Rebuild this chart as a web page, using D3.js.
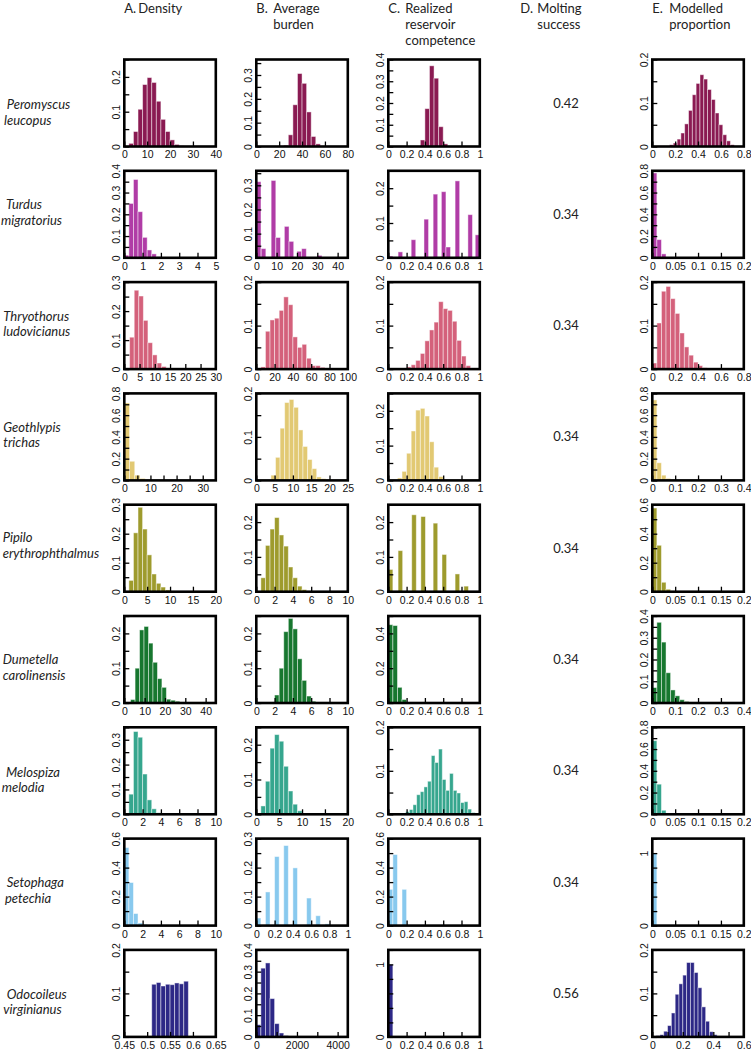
<!DOCTYPE html>
<html><head><meta charset="utf-8">
<script src="https://cdn.jsdelivr.net/npm/d3@7"></script>
<style>body{margin:0;background:#fff}svg{display:block}</style>
</head><body>
<svg id="chart" width="751" height="1050"></svg>
<script>
// ---------------- DATA ----------------
const species = [["Peromyscus","leucopus"],["Turdus","migratorius"],["Thryothorus","ludovicianus"],["Geothlypis","trichas"],["Pipilo","erythrophthalmus"],["Dumetella","carolinensis"],["Melospiza","melodia"],["Setophaga","petechia"],["Odocoileus","virginianus"]];
const speciesColors = ["#8a1a52","#b03ca6","#d4617b","#e2c973","#9e9b2d","#17772f","#36a68e","#88c9ee","#2d2886"];
const moltingSuccess = [0.42,0.34,0.34,0.34,0.34,0.34,0.34,0.34,0.56];
const columnLetters = ["A.","B.","C.","D.","E."];
const columnTitles = [["Density"],["Average","burden"],["Realized","reservoir","competence"],["Molting","success"],["Modelled","proportion"]];

// axis specs: x = [min, max, tickStep, labelStep], y = [max, tickStep, labelStep]
const densityX = [[0,40,10,10],[0,5,1,1],[0,30,5,5],[0,35,5,10],[0,20,5,5],[0,45,10,10],[0,10,2,2],[0,10,2,2],[0.45,0.65,0.05,0.05]];
const densityY = [[0.25,0.05,0.1],[0.4,0.05,0.1],[0.3,0.05,0.1],[0.8,0.1,0.2],[0.3,0.05,0.1],[0.25,0.05,0.1],[0.35,0.05,0.1],[0.6,0.1,0.2],[0.2,0.05,0.1]];
const densityBinWidth = [2,0.25,1.5,2,1,2.2,0.5,0.5,0.01];
const densityBins = [
  [[2,0.009],[4,0.043],[6,0.107],[8,0.178],[10,0.198],[12,0.184],[14,0.13],[16,0.078],[18,0.043],[20,0.019],[22,0.006],[24,0.002]],
  [[0,0.012],[0.25,0.25],[0.5,0.36],[0.75,0.212],[1,0.094],[1.25,0.036],[1.5,0.018],[1.75,0.005]],
  [[1.75,0.11],[3.25,0.272],[4.75,0.252],[6.25,0.168],[7.75,0.091],[9.25,0.049],[10.75,0.021],[12.25,0.009],[13.75,0.004],[15.25,0.002]],
  [[0,0.712],[2,0.176],[4,0.048],[6,0.018],[8,0.004]],
  [[1,0.039],[2,0.203],[3,0.291],[4,0.216],[5,0.127],[6,0.061],[7,0.029],[8,0.016],[9,0.006],[10,0.002]],
  [[3.1,0.01],[5.3,0.1],[7.5,0.21],[9.7,0.22],[11.9,0.172],[14.1,0.117],[16.3,0.07],[18.5,0.045],[20.7,0.011],[22.9,0.008],[25.1,0.005],[27.3,0.002]],
  [[0.5,0.081],[1,0.333],[1.5,0.31],[2,0.162],[2.5,0.058],[3,0.022],[3.5,0.006],[4,0.002]],
  [[0,0.538],[0.5,0.297],[1,0.083],[1.5,0.018],[2,0.009],[2.5,0.003]],
  [[0.51,0.121],[0.52,0.125],[0.53,0.117],[0.54,0.121],[0.55,0.12],[0.56,0.124],[0.57,0.122],[0.58,0.128]]
];

const burdenX = [[0,80,20,20],[0,45,10,10],[0,100,20,20],[0,25,5,5],[0,10,2,2],[0,10,2,2],[0,20,5,5],[0,1,0.2,0.2],[0,4500,1000,2000]];
const burdenY = [[0.365,0.05,0.1],[0.36,0.05,0.1],[0.2,0.05,0.1],[0.2,0.05,0.1],[0.25,0.05,0.1],[0.25,0.05,0.1],[0.25,0.05,0.1],[0.3,0.05,0.1],[0.4,0.05,0.1]];
const burdenBinWidth = [4,2.3,5,1.25,0.5,0.5,1,0.05,225];
const burdenBins = [
  [[24,0.005],[28,0.049],[32,0.175],[36,0.306],[40,0.265],[44,0.145],[48,0.042],[52,0.011]],
  [[0,0.315],[2.4,0.038],[7.3,0.32],[9.6,0.084],[13.8,0.13],[16.1,0.068],[20,0.027],[22.3,0.038],[30,0.01]],
  [[5,0.005],[10,0.087],[15,0.113],[20,0.117],[25,0.135],[30,0.166],[35,0.148],[40,0.074],[45,0.05],[50,0.057],[55,0.025],[60,0.008],[65,0.008],[70,0.004],[75,0.001]],
  [[4,0.012],[5.25,0.053],[6.5,0.12],[7.75,0.179],[9,0.186],[10.25,0.168],[11.5,0.116],[12.75,0.078],[14,0.048],[15.25,0.027],[16.5,0.008],[17.75,0.004],[19,0.002]],
  [[0.5,0.04],[1,0.133],[1.5,0.18],[2,0.213],[2.5,0.163],[3,0.131],[3.5,0.071],[4,0.04],[4.5,0.016],[5,0.006],[5.5,0.002]],
  [[2,0.023],[2.5,0.1],[3,0.205],[3.5,0.243],[4,0.213],[4.5,0.127],[5,0.065],[5.5,0.02],[6,0.005]],
  [[1,0.024],[2,0.095],[3,0.19],[4,0.229],[5,0.21],[6,0.138],[7,0.067],[8,0.029],[9,0.01],[10,0.003]],
  [[0,0.026],[0.1,0.116],[0.2,0.238],[0.3,0.276],[0.4,0.199],[0.55,0.095],[0.65,0.034],[0.75,0.006]],
  [[0,0.056],[225,0.316],[450,0.34],[675,0.176],[900,0.061],[1125,0.018],[1350,0.006],[1575,0.002]]
];

const competenceX = [[0,1,0.2,0.2],[0,1,0.2,0.2],[0,1,0.2,0.2],[0,1,0.2,0.2],[0,1,0.2,0.2],[0,1,0.2,0.2],[0,1,0.2,0.2],[0,1,0.2,0.2],[0,1,0.2,0.2]];
const competenceY = [[0.4,0.05,0.1],[0.25,0.05,0.1],[0.2,0.05,0.1],[0.25,0.05,0.1],[0.25,0.05,0.1],[0.5,0.1,0.2],[0.2,0.05,0.1],[0.6,0.1,0.2],[1.2,0.2,1]];
const competenceBinWidth = [0.05,0.05,0.05,0.05,0.05,0.05,0.04,0.05,0.05];
const competenceBins = [
  [[0.35,0.03],[0.4,0.174],[0.45,0.371],[0.5,0.314],[0.55,0.091],[0.6,0.012]],
  [[0,0.005],[0.107,0.017],[0.25,0.052],[0.39,0.111],[0.49,0.183],[0.58,0.19],[0.63,0.031],[0.73,0.221],[0.87,0.124],[0.95,0.066]],
  [[0.2,0.005],[0.25,0.01],[0.3,0.02],[0.35,0.036],[0.4,0.065],[0.45,0.09],[0.5,0.108],[0.55,0.155],[0.6,0.139],[0.65,0.135],[0.7,0.11],[0.75,0.066],[0.8,0.03],[0.85,0.008],[0.9,0.002]],
  [[0.1,0.007],[0.15,0.026],[0.2,0.078],[0.25,0.142],[0.3,0.202],[0.35,0.207],[0.4,0.185],[0.45,0.111],[0.5,0.038],[0.55,0.011],[0.6,0.003]],
  [[0,0.064],[0.107,0.118],[0.256,0.221],[0.356,0.216],[0.49,0.197],[0.587,0.107],[0.73,0.051],[0.826,0.016]],
  [[0,0.45],[0.05,0.445],[0.1,0.09],[0.15,0.02]],
  [[0.11,0.001],[0.15,0.003],[0.19,0.006],[0.23,0.011],[0.27,0.022],[0.31,0.045],[0.35,0.052],[0.39,0.063],[0.43,0.076],[0.47,0.135],[0.51,0.119],[0.55,0.15],[0.59,0.08],[0.63,0.055],[0.67,0.094],[0.71,0.055],[0.75,0.049],[0.79,0.027],[0.83,0.029],[0.87,0.012],[0.91,0.004]],
  [[0,0.25],[0.05,0.49],[0.15,0.25]],
  [[0,1.0]]
];

const proportionX = [[0,0.8,0.2,0.2],[0,0.2,0.05,0.05],[0,0.8,0.2,0.2],[0,0.4,0.1,0.1],[0,0.2,0.05,0.05],[0,0.4,0.1,0.1],[0,0.2,0.05,0.05],[0,0.2,0.05,0.05],[0,0.6,0.1,0.2]];
const proportionY = [[0.2,0.05,0.1],[0.8,0.1,0.2],[0.2,0.05,0.1],[0.8,0.1,0.2],[0.6,0.1,0.2],[0.4,0.05,0.1],[0.8,0.1,0.2],[1.2,0.2,1],[0.2,0.05,0.1]];
const proportionBinWidth = [0.0333,0.01,0.04,0.02,0.01,0.02,0.01,0.01,0.025];
const proportionBins = [
  [[0.15,0.004],[0.183,0.008],[0.217,0.017],[0.25,0.031],[0.283,0.052],[0.317,0.083],[0.35,0.119],[0.383,0.145],[0.417,0.165],[0.45,0.155],[0.483,0.131],[0.517,0.108],[0.55,0.077],[0.583,0.05],[0.617,0.027],[0.65,0.013],[0.683,0.004]],
  [[0,0.78],[0.01,0.167],[0.02,0.036],[0.03,0.005]],
  [[0,0.014],[0.04,0.106],[0.08,0.179],[0.12,0.19],[0.16,0.162],[0.2,0.128],[0.24,0.083],[0.28,0.051],[0.32,0.032],[0.36,0.016],[0.4,0.008],[0.44,0.003],[0.48,0.002]],
  [[0,0.74],[0.02,0.162],[0.04,0.048],[0.06,0.018],[0.08,0.005]],
  [[0,0.577],[0.01,0.32],[0.02,0.065],[0.03,0.017],[0.04,0.004]],
  [[0,0.071],[0.02,0.371],[0.04,0.28],[0.06,0.139],[0.08,0.06],[0.1,0.033],[0.12,0.015],[0.14,0.007],[0.16,0.003]],
  [[0,0.677],[0.01,0.277],[0.02,0.037],[0.03,0.005]],
  [[0,1.0]],
  [[0.025,0.003],[0.05,0.005],[0.075,0.013],[0.1,0.026],[0.125,0.055],[0.15,0.098],[0.175,0.122],[0.2,0.142],[0.225,0.171],[0.25,0.171],[0.275,0.148],[0.3,0.113],[0.325,0.069],[0.35,0.036],[0.375,0.012],[0.4,0.005],[0.425,0.002]]
];

// ---------------- LAYOUT ----------------
const boxW = 91.5, boxH = 87, colX0 = 124.3, colPitch = 132, rowY0 = 59.5, rowPitch = 111.3;
const labelDy = [2,-9,-9,-9,-10,0.5,2,1,1.5];
const labelDx1 = [6.7,6,3.3,3.3,2.7,2.7,6,6.7,6.7];
const labelDx2 = [4,1,3.3,3.3,2.7,2.7,1.7,5,3.3];
const tickFont = "'Liberation Sans', Arial, Helvetica, sans-serif";
const textFont = "Lato, 'Open Sans', sans-serif";
const fmt = d3.format("~g");

const svg = d3.select("#chart");

function stepValues(lo, hi, step) {
  const n = Math.floor((hi - lo) / step + 1e-6);
  return d3.range(0, n + 1).map(i => +(lo + i * step).toFixed(10));
}
function isMultiple(v, s) { const r = v / s; return Math.abs(r - Math.round(r)) < 1e-6; }

function drawPanel(g, xs, ys, bw, bins, color) {
  const [x0, x1, xt, xl] = xs, [y1, yt, yl] = ys;
  const x = d3.scaleLinear().domain([x0, x1]).range([0, boxW]);
  const y = d3.scaleLinear().domain([0, y1]).range([boxH, 0]);
  g.append("g").selectAll("rect").data(bins).join("rect")
    .attr("x", d => x(d[0])).attr("y", d => y(d[1]))
    .attr("width", d => Math.max(0, x(d[0] + bw) - x(d[0])))
    .attr("height", d => boxH - y(d[1]))
    .attr("fill", color).attr("stroke", "#fff").attr("stroke-opacity", 0.5).attr("stroke-width", 0.9);

  const xa = g.append("g").attr("transform", `translate(0,${boxH})`)
    .call(d3.axisBottom(x).tickValues(stepValues(x0, x1, xt)).tickSizeInner(-5).tickSizeOuter(0).tickPadding(4.5)
      .tickFormat(v => isMultiple(v, xl) ? fmt(v) : ""));
  xa.select(".domain").remove();
  xa.attr("font-family", tickFont).attr("font-size", 10.5);
  xa.selectAll(".tick line").attr("stroke-width", 1.3);
  xa.selectAll(".tick text").attr("fill", "#111");

  const ya = g.append("g")
    .call(d3.axisLeft(y).tickValues(stepValues(0, y1, yt)).tickSizeInner(-5).tickSizeOuter(0)
      .tickFormat(v => isMultiple(v, yl) ? fmt(v) : ""));
  ya.select(".domain").remove();
  ya.attr("font-family", tickFont).attr("font-size", 10.5);
  ya.selectAll(".tick line").attr("stroke-width", 1.3);
  ya.selectAll(".tick text").attr("x", null).attr("dy", null)
    .attr("transform", "translate(-4.5,0) rotate(-90)").attr("text-anchor", "middle").attr("fill", "#111");

  g.append("rect").attr("width", boxW).attr("height", boxH)
    .attr("fill", "none").attr("stroke", "#000").attr("stroke-width", 2.6);
}

const columns = [
  {col: 0, xs: densityX, ys: densityY, bw: densityBinWidth, bins: densityBins},
  {col: 1, xs: burdenX, ys: burdenY, bw: burdenBinWidth, bins: burdenBins},
  {col: 2, xs: competenceX, ys: competenceY, bw: competenceBinWidth, bins: competenceBins},
  {col: 4, xs: proportionX, ys: proportionY, bw: proportionBinWidth, bins: proportionBins}
];

columns.forEach(c => species.forEach((sp, r) => {
  const g = svg.append("g").attr("transform", `translate(${colX0 + c.col * colPitch},${rowY0 + r * rowPitch})`);
  drawPanel(g, c.xs[r], c.ys[r], c.bw[r], c.bins[r], speciesColors[r]);
}));

// Column D: molting success values
svg.append("g").selectAll("text").data(moltingSuccess).join("text")
  .attr("x", colX0 + 3 * colPitch + boxW / 2)
  .attr("y", (d, i) => rowY0 + i * rowPitch + boxH / 2 + 4.5)
  .attr("text-anchor", "middle").attr("font-family", textFont).attr("font-size", 13).attr("fill", "#222")
  .text(d => d3.format(".2f")(d));

// Column headers
const headerBase = [13, 29, 45];
columnLetters.forEach((L, c) => {
  const x = colX0 + c * colPitch;
  const h = svg.append("g").attr("font-family", textFont).attr("font-size", 13).attr("fill", "#222");
  h.append("text").attr("x", x).attr("y", headerBase[0]).text(L);
  columnTitles[c].forEach((t, k) => {
    h.append("text").attr("x", x + (c === 0 ? 14 : 17)).attr("y", headerBase[k]).text(t);
  });
});

// Species labels
species.forEach((sp, r) => {
  const cy = rowY0 + r * rowPitch + boxH / 2 + labelDy[r];
  const t = svg.append("g").attr("font-family", textFont).attr("font-size", 13).attr("font-style", "italic").attr("fill", "#222");
  t.append("text").attr("x", labelDx1[r]).attr("y", cy + 4).text(sp[0]);
  t.append("text").attr("x", labelDx2[r]).attr("y", cy + 19.5).text(sp[1]);
});
</script>
</body></html>
